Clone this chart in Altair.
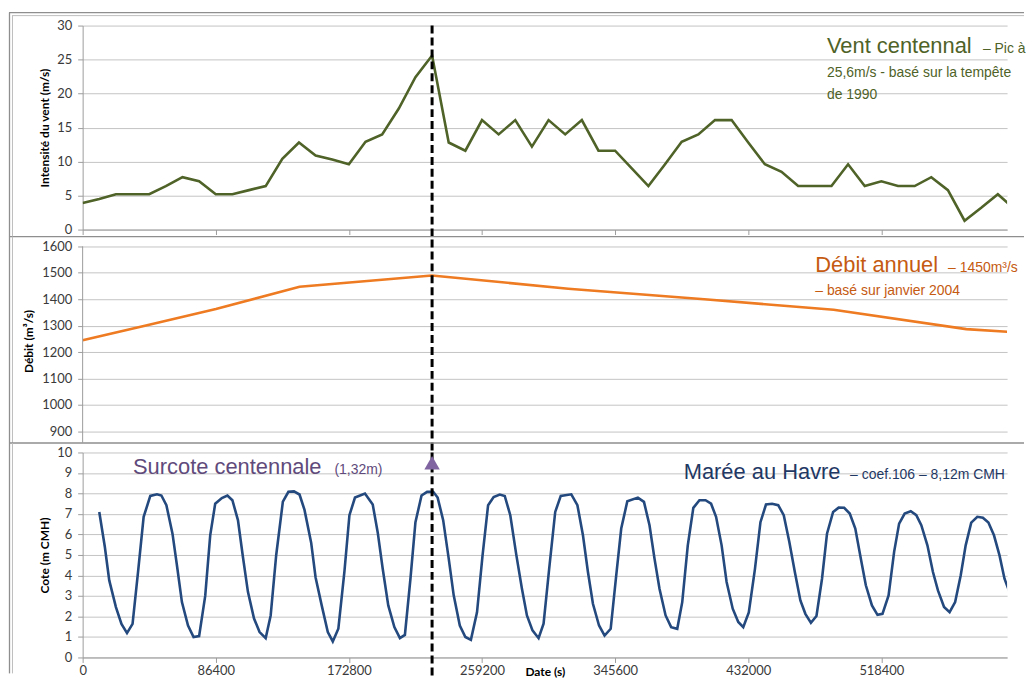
import altair as alt
import pandas as pd

# ---------------- data ----------------
wind_step_s = 10800
wind_speed = [3.9, 4.5, 5.2, 5.2, 5.2, 6.4, 7.7, 7.1, 5.2, 5.2, 5.8, 6.4, 10.4, 12.8, 10.9, 10.3,
              9.6, 12.9, 14.0, 17.8, 22.4, 25.6, 12.8, 11.6, 16.1, 14.0, 16.1, 12.2, 16.1, 14.0,
              16.1, 11.6, 11.6, 9.0, 6.4, 9.6, 12.9, 14.0, 16.1, 16.1, 12.8, 9.6, 8.5, 6.4, 6.4,
              6.4, 9.6, 6.4, 7.1, 6.4, 6.4, 7.7, 5.8, 1.3, 3.2, 5.2, 3.0]

flow_time = [0, 41800, 86500, 140800, 226700, 315200, 403500, 487400, 573500, 600000]
flow_value = [1245, 1302, 1363, 1447, 1490, 1440, 1400, 1360, 1287, 1277]

tide_hours = [3.0, 4.0, 4.8, 6.0, 7.0, 8.0, 9.0, 10.0, 11.0, 12.2, 13.4, 14.2, 15.1, 16.2, 17.0,
              17.9, 19.0, 20.0, 21.0, 22.1, 23.0, 23.9, 25.1, 26.1, 27.0, 28.0, 28.9, 29.8, 30.9,
              31.9, 33.0, 33.9, 34.9, 36.1, 37.1, 38.1, 39.1, 40.0, 41.2, 42.0, 43.1, 44.2, 45.1,
              46.1, 47.2, 48.1, 49.1, 50.9, 52.3, 53.2, 54.1, 55.1, 56.2, 57.2, 58.1, 59.1, 60.0,
              61.1, 62.1, 63.2, 64.0, 65.0, 66.0, 66.9, 68.0, 69.0, 70.0, 71.1, 72.1, 73.1, 74.1,
              75.2, 76.1, 77.1, 78.2, 79.2, 80.1, 81.1, 82.2, 83.1, 84.1, 85.2, 86.2, 88.1, 89.2,
              90.2, 91.1, 92.0, 93.1, 94.1, 95.2, 96.2, 97.1, 98.2, 100.1, 101.2, 102.2, 103.1,
              104.0, 105.1, 106.1, 107.2, 108.1, 109.1, 110.1, 111.2, 112.3, 113.3, 114.2, 115.2,
              116.1, 117.2, 118.2, 119.1, 120.1, 121.2, 122.2, 123.2, 124.3, 125.4, 126.4, 127.4,
              128.4, 129.4, 130.3, 131.3, 132.3, 133.3, 134.2, 135.3, 136.3, 137.3, 138.3, 139.3,
              140.3, 141.2, 142.3, 143.3, 144.2, 145.3, 146.3, 147.2, 148.2, 149.3, 150.3, 151.2,
              152.3, 153.3, 154.2, 155.3, 156.3, 157.3, 158.3, 159.2, 160.2, 161.3, 162.3, 163.3,
              164.3, 165.3, 166.2, 167.1]
tide_level = [7.1, 5.4, 3.76, 2.46, 1.64, 1.19, 1.64, 4.2, 6.86, 7.88, 7.96, 7.9, 7.43, 6.04, 4.5,
              2.7, 1.56, 1.0, 1.04, 3.0, 5.96, 7.5, 7.78, 7.9, 7.67, 6.7, 4.9, 3.2, 1.9,
              1.24, 0.94, 2.05, 5.0, 7.6, 8.08, 8.1, 7.95, 7.2, 5.6, 3.9, 2.54, 1.24, 0.78,
              1.4, 4.2, 6.94, 7.8, 8.0, 7.46, 6.1, 4.33, 2.54, 1.48, 0.94, 1.1, 3.84, 6.6,
              7.9, 8.08, 8.08, 7.8, 6.7, 4.82, 3.03, 1.56, 1.0, 0.86, 2.2, 4.98, 7.43, 7.83,
              7.95, 7.88, 6.94, 4.98, 3.35, 2.05, 1.32, 0.94, 1.65, 4.3, 7.1, 7.88, 7.96, 7.43,
              5.96, 4.17, 2.62, 1.56, 1.07, 1.4, 4.0, 6.29, 7.62, 7.8, 7.59, 6.45, 4.82,
              3.35, 2.05, 1.48, 1.4, 2.7, 5.47, 7.3, 7.67, 7.67, 7.5, 6.86, 5.47,
              3.68, 2.38, 1.73, 1.48, 2.2, 4.3, 6.6, 7.46, 7.5, 7.43, 6.94, 5.64,
              4.17, 2.78, 2.13, 1.69, 2.02, 3.84, 6.04, 7.1, 7.31, 7.3, 7.02, 6.29,
              4.82, 3.52, 2.54, 2.08, 2.13, 3.03, 5.15, 6.53, 7.02, 7.13, 6.94, 6.45,
              5.47, 4.17, 3.27, 2.46, 2.21, 2.7, 4.0, 5.47, 6.58, 6.86, 6.82, 6.58,
              5.96, 4.98, 3.84, 3.19]

peak_time = 226800
surge_level = 9.5

x_ticks = [0, 86400, 172800, 259200, 345600, 432000, 518400]
wind_ticks = [0, 5, 10, 15, 20, 25, 30]
flow_ticks = [900, 1000, 1100, 1200, 1300, 1400, 1500, 1600]
tide_ticks = list(range(0, 11))

# ---------------- tables ----------------
wind_df = pd.DataFrame({"t": [i * wind_step_s for i in range(len(wind_speed))], "v": wind_speed})
flow_df = pd.DataFrame({"t": flow_time, "v": flow_value})
tide_df = pd.DataFrame({"t": [h * 3600 for h in tide_hours], "v": tide_level})
peak_df = pd.DataFrame({"t": [peak_time]})
surge_df = pd.DataFrame({"t": [peak_time], "v": [surge_level]})
flow_top_df = pd.DataFrame({"v": [flow_ticks[-1]]})
dummy = pd.DataFrame({"d": [0]})

# ---------------- style ----------------
W = 929
H_TOP, H_MID, H_BOT = 205, 204, 206
AX_FONT = "Lato"
TXT_FONT = "Liberation Sans"
BIG, SMALL = 22, 14
GRID = "#c4c4c4"
AXLINE = "#9c9c9c"
LBL = "#3a3a3a"
X_DOMAIN = [0, 600000]
RIGHT = 946  # right end of the frame lines, relative to the plot's left edge


def yaxis(title, values, title_x, height, domain=True):
    return alt.Axis(values=values, format="d", title=title, titleX=title_x, titleY=height / 2,
                    titleAngle=-90, titleBaseline="middle", titleAlign="center",
                    titleFont=AX_FONT, titleFontSize=12, titleFontWeight="bold", titleColor="black",
                    labelFont=AX_FONT, labelFontSize=13, labelColor=LBL, labelPadding=6,
                    labelOverlap=False,
                    grid=True, gridColor=GRID, gridWidth=1, domain=domain,
                    domainColor=AXLINE, tickColor=AXLINE, tickSize=5)


def xaxis(show_labels):
    if show_labels:
        return alt.Axis(values=x_ticks, format="d", title="Date (s)", titleX=W / 2, titleY=14,
                        titleBaseline="middle", titleFont=AX_FONT, titleFontSize=12,
                        titleFontWeight="bold", titleColor="black",
                        labelFont=AX_FONT, labelFontSize=13, labelColor=LBL, labelPadding=2,
                        labelFlush=False, labelOverlap=False,
                        grid=False, domainColor=AXLINE, tickColor=AXLINE, tickSize=5)
    return alt.Axis(values=x_ticks, labels=False, title=None, grid=False,
                    domainColor=AXLINE, tickColor=AXLINE, tickSize=5)


def hrule(x1, x2, y, color, w):
    return alt.Chart(dummy).mark_rule(color=color, strokeWidth=w).encode(
        x=alt.value(x1), x2=alt.value(x2), y=alt.value(y))


def vrule(x, y1, y2, color, w):
    return alt.Chart(dummy).mark_rule(color=color, strokeWidth=w).encode(
        x=alt.value(x), y=alt.value(y1), y2=alt.value(y2))


def label(df_t, df_v, txt, size, color, X, Y):
    d = pd.DataFrame({"t": [df_t], "v": [df_v], "txt": [txt]})
    return alt.Chart(d).mark_text(align="left", baseline="alphabetic", font=TXT_FONT,
                                  fontSize=size, color=color).encode(x=X, y=Y, text="txt:N")


def dashed(X, extend_to):
    return alt.Chart(peak_df).mark_rule(color="black", strokeWidth=3, strokeDash=[8, 4]).encode(
        x=X, y=alt.value(0), y2=alt.value(extend_to))


OUT, INN = "#8e8e8e", "#bdbdbd"

# ---------------- top panel : wind ----------------
Xt = alt.X("t:Q", scale=alt.Scale(domain=X_DOMAIN, nice=False, zero=False), axis=xaxis(False))
Yt = alt.Y("v:Q", scale=alt.Scale(domain=[0, 30], nice=False),
           axis=yaxis("Intensité du vent (m/s)", wind_ticks, -38, H_TOP))
GREEN = "#4F6228"
top = alt.layer(
    alt.Chart(wind_df).mark_line(color=GREEN, strokeWidth=2.6, clip=True).encode(x=Xt, y=Yt),
    dashed(Xt, H_TOP + 10),
    label(483100, 25.95, "Vent centennal", BIG, GREEN, Xt, Yt),
    label(584300, 25.95, "– Pic à", SMALL, GREEN, Xt, Yt),
    label(483100, 22.4, "25,6m/s -  basé sur la tempête", SMALL, GREEN, Xt, Yt),
    label(483100, 19.2, "de 1990", SMALL, GREEN, Xt, Yt),
    hrule(-74, RIGHT, -13, OUT, 1.3),
    hrule(-71, RIGHT, -10, INN, 1),
    vrule(-73.5, -13, 212, OUT, 1.3),
    vrule(-70.5, -10, 212, INN, 1),
    hrule(-74, RIGHT, 212, OUT, 1.3),
).properties(width=W, height=H_TOP)

# ---------------- middle panel : river flow ----------------
Xm = alt.X("t:Q", scale=alt.Scale(domain=X_DOMAIN, nice=False, zero=False), axis=None)
Ym = alt.Y("v:Q", scale=alt.Scale(domain=[858, 1626], nice=False, zero=False),
           axis=yaxis("Débit (m³/s)", flow_ticks, -54, H_MID, domain=False))
ORANGE_LINE = "#EE7B22"
ORANGE_TXT = "#C55A11"
mid = alt.layer(
    alt.Chart(flow_df).mark_line(color=ORANGE_LINE, strokeWidth=2.6, clip=True).encode(x=Xm, y=Ym),
    alt.Chart(flow_top_df).mark_rule(color=AXLINE, strokeWidth=1).encode(
        x=alt.value(0), y=Ym, y2=alt.value(H_MID)),
    dashed(Xm, H_MID + 10),
    label(475500, 1503, "Débit annuel", BIG, ORANGE_TXT, Xm, Ym),
    label(561700, 1503, "– 1450m³/s", SMALL, ORANGE_TXT, Xm, Ym),
    label(475500, 1418, "– basé sur janvier 2004", SMALL, ORANGE_TXT, Xm, Ym),
    vrule(-73.5, -3, 204.5, OUT, 1.3),
    vrule(-70.5, -3, 204.5, INN, 1),
    hrule(-74, RIGHT, 204.5, OUT, 1.3),
).properties(width=W, height=H_MID)

# ---------------- bottom panel : tide ----------------
Xb = alt.X("t:Q", scale=alt.Scale(domain=X_DOMAIN, nice=False, zero=False), axis=xaxis(True))
Yb = alt.Y("v:Q", scale=alt.Scale(domain=[0, 10], nice=False),
           axis=yaxis("Cote (m CMH)", tide_ticks, -38, H_BOT))
NAVY_LINE = "#23497E"
NAVY_TXT = "#1F3864"
PURPLE_TXT = "#604A7B"
PURPLE = "#8064A2"
bot = alt.layer(
    alt.Chart(tide_df).mark_line(color=NAVY_LINE, strokeWidth=2.6, clip=True).encode(x=Xb, y=Yb),
    dashed(Xb, H_BOT + 22),
    alt.Chart(surge_df).mark_point(shape="triangle-up", filled=True, size=240, color=PURPLE,
                                   opacity=1).encode(x=Xb, y=Yb),
    label(32700, 8.97, "Surcote centennale", BIG, PURPLE_TXT, Xb, Yb),
    label(163400, 8.97, "(1,32m)", SMALL, PURPLE_TXT, Xb, Yb),
    label(390100, 8.72, "Marée au Havre", BIG, NAVY_TXT, Xb, Yb),
    label(498100, 8.72, "– coef.106 – 8,12m  CMH", SMALL, NAVY_TXT, Xb, Yb),
    vrule(-73.5, -9.5, 222, OUT, 1.3),
    vrule(-70.5, -9.5, 222, INN, 1),
).properties(width=W, height=H_BOT)

chart = alt.vconcat(top, mid, bot, spacing=10, bounds="flush").properties(
    padding={"left": 0, "top": 2, "right": 0, "bottom": 0}, background="white"
).configure_view(stroke=None)

chart.save("out.html", embed_options={"renderer": "svg", "actions": False})
